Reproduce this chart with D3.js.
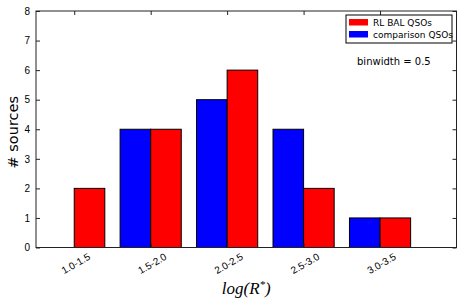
<!DOCTYPE html>
<html>
<head>
<meta charset="utf-8">
<script src="https://cdn.jsdelivr.net/npm/d3@7"></script>
<style>
  body { margin: 0; background: #fff; }
  svg { display: block; font-family: "DejaVu Sans", sans-serif; }
  .axis path, .axis line { stroke: #222; }
  .axis text { fill: #000; }
</style>
</head>
<body>
<div id="chart"></div>
<script>
// ── data ─────────────────────────────────────────────────────
const bins       = ['1.0-1.5', '1.5-2.0', '2.0-2.5', '2.5-3.0', '3.0-3.5'];
const rlBal      = [2, 4, 6, 2, 1];
const comparison = [0, 4, 5, 4, 1];
const yTicks     = [0, 1, 2, 3, 4, 5, 6, 7, 8];

// ── layout ───────────────────────────────────────────────────
const W = 463, H = 303;
const ML = 36, MR = 6.5, MT = 11, MB = 55.5;
const plotW = W - ML - MR;
const plotH = H - MT - MB;
const barW = 0.4;

const svg = d3.select('#chart').append('svg')
  .attr('width', W).attr('height', H);

const x = d3.scaleLinear().domain([-0.5, 5]).range([0, plotW]);
const y = d3.scaleLinear().domain([0, 8]).range([plotH, 0]);

const g = svg.append('g').attr('transform', `translate(${ML},${MT})`);

// bars: comparison left of tick, RL BAL right of tick
const series = [
  { values: comparison, color: '#0000ff', off: -barW },
  { values: rlBal,      color: '#ff0000', off: 0 },
];
series.forEach(s => {
  g.selectAll(null)
    .data(s.values.map((v, i) => ({ v, i })).filter(d => d.v > 0))
    .enter().append('rect')
    .attr('x', d => x(d.i + s.off))
    .attr('y', d => y(d.v))
    .attr('width', d => x(d.i + s.off + barW) - x(d.i + s.off))
    .attr('height', d => y(0) - y(d.v))
    .attr('fill', s.color)
    .attr('stroke', '#000').attr('stroke-width', 1);
});

// axes (matplotlib-style inward ticks on all sides)
const fmtX = i => bins[i];
const xIdx = bins.map((_, i) => i);

const xBottom = g.append('g').attr('class', 'axis')
  .attr('transform', `translate(0,${plotH})`)
  .call(d3.axisBottom(x).tickValues(xIdx).tickFormat(fmtX).tickSize(-4));
xBottom.selectAll('text')
  .attr('font-size', 10)
  .attr('text-anchor', 'middle')
  .attr('transform', 'translate(1,16) rotate(-30)')
  .attr('dy', '0.35em').attr('y', 0);

g.append('g').attr('class', 'axis')
  .call(d3.axisTop(x).tickValues(xIdx).tickFormat('').tickSize(-4));

g.append('g').attr('class', 'axis')
  .call(d3.axisLeft(y).tickValues(yTicks).tickFormat(d3.format('d')).tickSize(-4).tickPadding(6))
  .selectAll('text').attr('font-size', 10);

g.append('g').attr('class', 'axis')
  .attr('transform', `translate(${plotW},0)`)
  .call(d3.axisRight(y).tickValues(yTicks).tickFormat('').tickSize(-4));

g.selectAll('.axis .domain').remove();
g.append('rect')
  .attr('width', plotW).attr('height', plotH)
  .attr('fill', 'none').attr('stroke', '#222').attr('stroke-width', 1);

// axis labels
svg.append('text')
  .attr('transform', `translate(18,${MT + plotH / 2 + 3}) rotate(-90)`)
  .attr('text-anchor', 'middle').attr('font-size', 14.5)
  .text('# sources');

const xl = svg.append('text')
  .attr('x', ML + plotW / 2).attr('y', 294)
  .attr('text-anchor', 'middle')
  .attr('font-family', '"Liberation Serif", serif')
  .attr('font-style', 'italic').attr('font-size', 17);
xl.append('tspan').text('log(R');
xl.append('tspan').attr('font-size', 11).attr('dy', -6).text('*');
xl.append('tspan').attr('dy', 6).text(')');

// legend
const legend = svg.append('g').attr('transform', 'translate(346,15)');
legend.append('rect')
  .attr('width', 106).attr('height', 28)
  .attr('fill', '#fff').attr('stroke', '#000').attr('stroke-width', 1);
const legendItems = [
  { label: 'RL BAL QSOs', color: '#ff0000' },
  { label: 'comparison QSOs', color: '#0000ff' },
];
legendItems.forEach((d, i) => {
  legend.append('rect')
    .attr('x', 3).attr('y', 4 + i * 12)
    .attr('width', 19).attr('height', 6.5)
    .attr('fill', d.color);
  legend.append('text')
    .attr('x', 27).attr('y', 10.5 + i * 12)
    .attr('font-size', 9).text(d.label);
});

svg.append('text')
  .attr('x', 357).attr('y', 65)
  .attr('font-size', 10).text('binwidth = 0.5');
</script>
</body>
</html>
